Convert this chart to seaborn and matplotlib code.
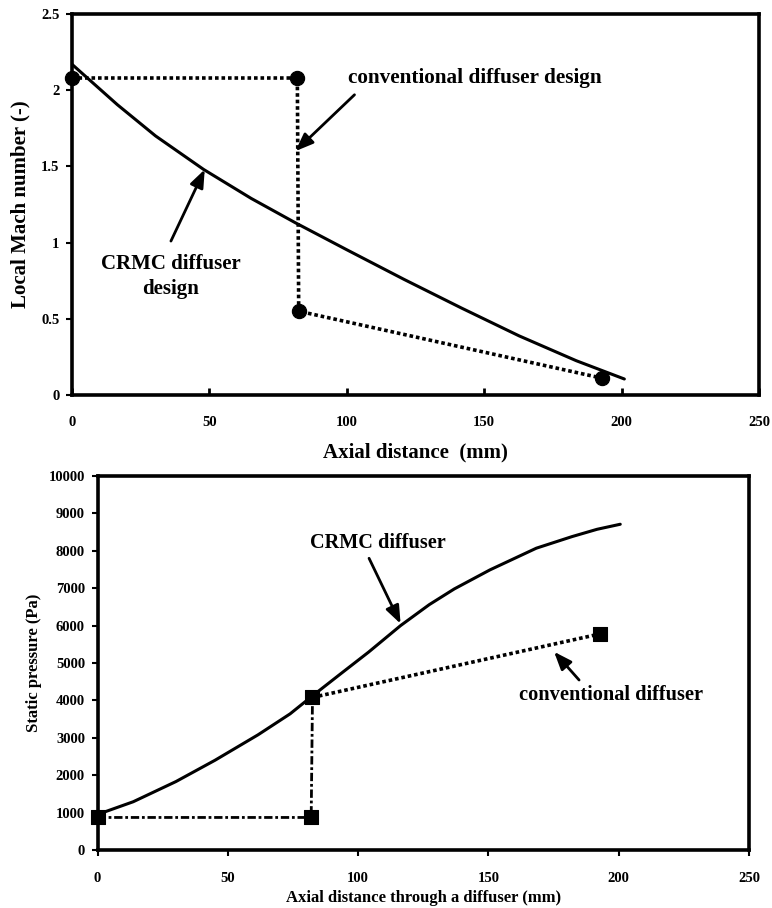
import matplotlib
matplotlib.use("Agg")
import matplotlib.pyplot as plt
import seaborn as sns

# Local Mach number along the diffuser
crmc_mach_x = [0, 16.5, 30.4, 47.9, 65.2, 81.3, 100, 120.9, 141.8, 162.7, 183.5, 201]
crmc_mach = [2.17, 1.905, 1.70, 1.48, 1.29, 1.13, 0.953, 0.758, 0.570, 0.388, 0.225, 0.105]
conv_mach_x = [0, 82, 82.5, 193]
conv_mach = [2.08, 2.08, 0.55, 0.11]

# Static pressure along the diffuser
crmc_p_x = [0, 13.7, 30.1, 45.1, 61.6, 73.9, 82.1, 93.1, 104.0, 116.3, 127.3,
            136.9, 150.6, 168.4, 182.1, 191.7, 200.6]
crmc_p = [950, 1290, 1830, 2400, 3080, 3640, 4100, 4700, 5290, 6000, 6560,
          6980, 7490, 8070, 8380, 8575, 8710]
conv_p_x = [0, 82, 82.5, 193]
conv_p = [870, 870, 4080, 5780]

mach_xticks = [0, 50, 100, 150, 200, 250]
mach_yticks = [0, 0.5, 1, 1.5, 2, 2.5]
mach_yticklabels = ["0", "0.5", "1", "1.5", "2", "2.5"]
p_xticks = [0, 50, 100, 150, 200, 250]
p_yticks = list(range(0, 10001, 1000))

sns.set_theme(style="ticks")
plt.rcParams["font.family"] = ["Liberation Serif", "DejaVu Serif"]
plt.rcParams["font.weight"] = "bold"
for key in ("text.color", "axes.labelcolor", "xtick.color", "ytick.color",
            "axes.edgecolor"):
    plt.rcParams[key] = "black"

fig = plt.figure(figsize=(7.72, 9.08), dpi=100)
ax1 = fig.add_axes([72 / 772, 1 - 395 / 908, 687 / 772, 381 / 908])
ax2 = fig.add_axes([97.5 / 772, 1 - 850 / 908, 651.5 / 772, 374 / 908])

dot = (0, (1, 0.8))
dashdot = (0, (3, 1, 1, 1))
arrow = dict(arrowstyle="-|>,head_length=0.9,head_width=0.35", color="black",
             lw=2.0, shrinkA=0, shrinkB=0)

# ---- upper panel: Mach number ----
sns.lineplot(x=crmc_mach_x, y=crmc_mach, ax=ax1, color="black", lw=2.2,
             estimator=None, sort=False)
sns.lineplot(x=conv_mach_x, y=conv_mach, ax=ax1, color="black", lw=2.6,
             linestyle=dot, estimator=None, sort=False)
sns.scatterplot(x=conv_mach_x, y=conv_mach, ax=ax1, color="black", marker="o",
                s=105, edgecolor="black", zorder=5, clip_on=False)

ax1.set_xlim(0, 250)
ax1.set_ylim(0, 2.5)
ax1.set_xticks(mach_xticks)
ax1.set_yticks(mach_yticks)
ax1.set_yticklabels(mach_yticklabels)
ax1.tick_params(axis="x", direction="in", length=5, width=2, pad=15, labelsize=10.5)
ax1.tick_params(axis="y", direction="out", length=4, width=1.5, pad=5, labelsize=10.5)
ax1.set_xlabel("Axial distance  (mm)", fontsize=15, fontweight="bold")
ax1.set_ylabel("Local Mach number (-)", fontsize=15, fontweight="bold")
ax1.xaxis.set_label_coords(0.5, -0.125)
ax1.yaxis.set_label_coords(-0.06, 0.5)

ax1.text(100.4, 2.08, "conventional diffuser design", fontsize=15.3, fontweight="bold",
         ha="left", va="center")
ax1.annotate("", xy=(81.3, 1.60), xytext=(102.8, 1.97), arrowprops=arrow)
ax1.text(36.0, 0.776, "CRMC diffuser\ndesign", fontsize=15, fontweight="bold",
         ha="center", va="center", linespacing=1.3)
ax1.annotate("", xy=(48.3, 1.48), xytext=(36.0, 1.01), arrowprops=arrow)

# ---- lower panel: static pressure ----
sns.lineplot(x=crmc_p_x, y=crmc_p, ax=ax2, color="black", lw=2.2,
             estimator=None, sort=False)
sns.lineplot(x=conv_p_x[:3], y=conv_p[:3], ax=ax2, color="black", lw=2.0,
             linestyle=dashdot, estimator=None, sort=False)
sns.lineplot(x=conv_p_x[2:], y=conv_p[2:], ax=ax2, color="black", lw=2.6,
             linestyle=dot, estimator=None, sort=False)
sns.scatterplot(x=conv_p_x, y=conv_p, ax=ax2, color="black", marker="s",
                s=95, edgecolor="black", zorder=5, clip_on=False)

ax2.set_xlim(0, 250)
ax2.set_ylim(0, 10000)
ax2.set_xticks(p_xticks)
ax2.set_yticks(p_yticks)
ax2.tick_params(axis="x", direction="out", length=4, width=1.5, pad=12, labelsize=10.5)
ax2.tick_params(axis="y", direction="out", length=4, width=1.5, pad=5, labelsize=10.5)
ax2.set_xlabel("Axial distance through a diffuser (mm)", fontsize=12, fontweight="bold")
ax2.set_ylabel("Static pressure (Pa)", fontsize=12, fontweight="bold")
ax2.xaxis.set_label_coords(0.5, -0.108)
ax2.yaxis.set_label_coords(-0.085, 0.5)

ax2.text(107.5, 8200, "CRMC diffuser", fontsize=14.6, fontweight="bold",
         ha="center", va="center")
ax2.annotate("", xy=(116.3, 6050), xytext=(104.2, 7800), arrowprops=arrow)
ax2.text(197.2, 4144, "conventional diffuser", fontsize=14.7, fontweight="bold",
         ha="center", va="center")
ax2.annotate("", xy=(175.2, 5300), xytext=(184.8, 4545), arrowprops=arrow)

for ax in (ax1, ax2):
    for side in ("left", "right", "top", "bottom"):
        ax.spines[side].set_visible(True)
        ax.spines[side].set_linewidth(2.6)
        ax.spines[side].set_color("black")
    for lab in ax.get_xticklabels() + ax.get_yticklabels():
        lab.set_fontweight("bold")
    if ax.get_legend() is not None:
        ax.get_legend().remove()

fig.savefig("out.png", dpi=100, facecolor="white")
